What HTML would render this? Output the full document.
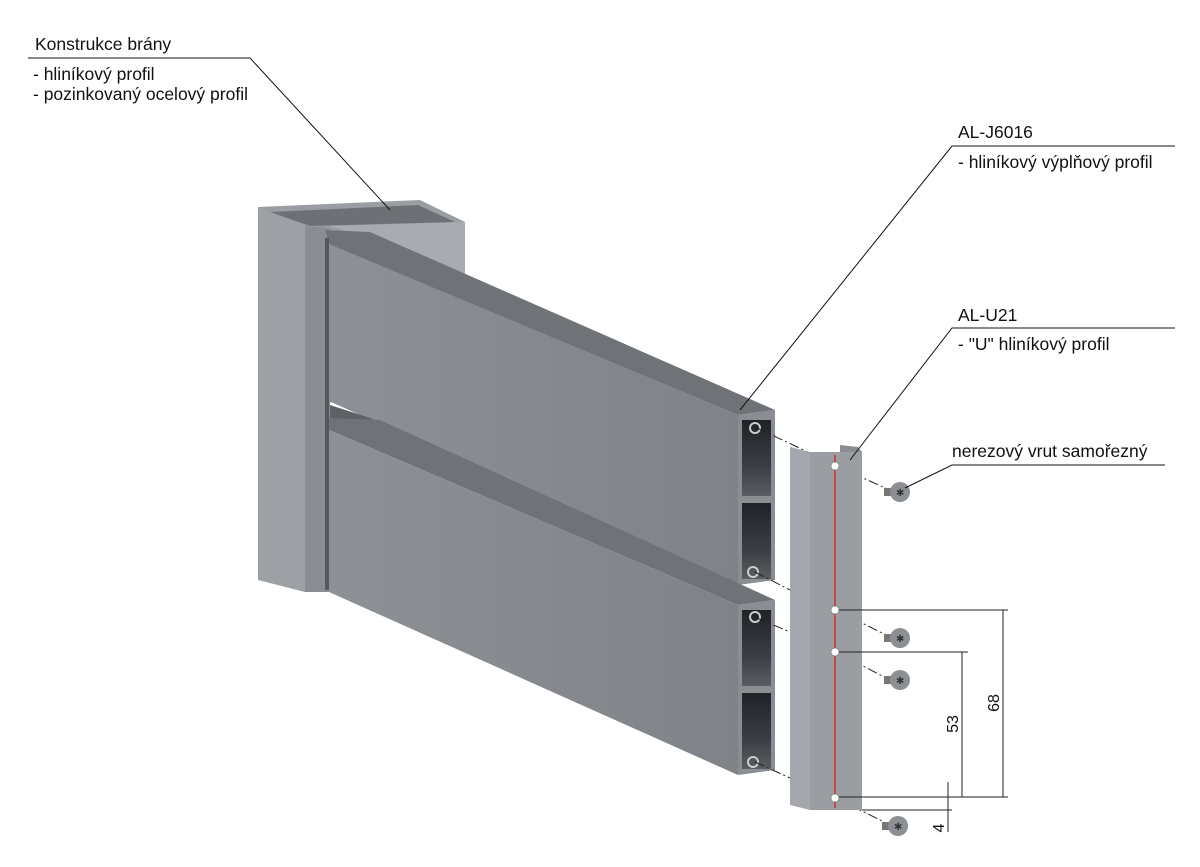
<!DOCTYPE html>
<html><head><meta charset="utf-8"><style>
html,body{margin:0;padding:0;background:#fff;}
svg{display:block;font-family:"Liberation Sans",sans-serif;}
</style></head><body>
<svg width="1200" height="867" viewBox="0 0 1200 867" xmlns="http://www.w3.org/2000/svg">
<defs>
<linearGradient id="fr" x1="0" y1="0" x2="1" y2="0"><stop offset="0" stop-color="#8d9196"/><stop offset="1" stop-color="#7f8388"/></linearGradient>
<linearGradient id="hole" x1="0" y1="0" x2="0" y2="1"><stop offset="0" stop-color="#1f2226"/><stop offset="0.6" stop-color="#3a3e43"/><stop offset="1" stop-color="#5a5e63"/></linearGradient>
</defs>
<!-- post back part -->
<polygon points="258,207 420,200 465,222 465,275 305,228" fill="#9a9ea3"/>
<polygon points="270,212 418,205 455,222 310,226" fill="#6d7176"/>
<polygon points="330,226 465,222 465,275 400,248" fill="#a8acb0"/>
<!-- post faces -->
<polygon points="258,207 305,226 305,592 258,580" fill="#9da1a6"/>
<polygon points="305,226 330,228 330,592 305,592" fill="#8a8e93"/>
<!-- upper bar -->
<polygon points="325,230 370,232 775,410 738,415 330,245" fill="#6f7378"/>
<polygon points="329,244 738,415 738,585 329,402" fill="url(#fr)"/>
<polygon points="738,415 775,410 775,580 738,585" fill="#8a8e93"/>
<rect x="742" y="420" width="29" height="76" fill="url(#hole)"/>
<rect x="742" y="503" width="29" height="76" fill="url(#hole)"/>
<!-- gap between bars -->
<polygon points="331,402 738,585 738,605 331,425" fill="#fff"/>
<polygon points="330,405 370,418 470,462 330,418" fill="#5e6267"/>
<!-- lower bar -->
<polygon points="329,418 380,420 775,600 738,605 329,430" fill="#6f7378"/>
<polygon points="329,430 738,605 738,775 329,592" fill="url(#fr)"/>
<polygon points="738,605 775,600 775,770 738,775" fill="#8a8e93"/>
<rect x="742" y="610" width="29" height="76" fill="url(#hole)"/>
<rect x="742" y="693" width="29" height="76" fill="url(#hole)"/>
<rect x="325" y="238" width="4" height="352" fill="#55595e"/>
<!-- small C grooves -->
<g fill="none" stroke="#ccc" stroke-width="2">
<circle cx="755" cy="428" r="5"/><circle cx="753" cy="572" r="5"/>
<circle cx="755" cy="617" r="5"/><circle cx="753" cy="762" r="5"/>
</g>
<!-- dashed connector lines -->
<g stroke="#222" stroke-width="1" fill="none" stroke-dasharray="10,3,2,3">
<line x1="757" y1="428" x2="810" y2="453"/>
<line x1="755" y1="572" x2="790" y2="590"/>
<line x1="757" y1="618" x2="790" y2="632"/>
<line x1="755" y1="762" x2="790" y2="778"/>
<line x1="836" y1="466" x2="890" y2="490"/>
<line x1="836" y1="610" x2="890" y2="637"/>
<line x1="836" y1="652" x2="890" y2="680"/>
<line x1="836" y1="798" x2="890" y2="825"/>
</g>
<!-- U profile -->
<polygon points="790,447 810,452 810,810 790,805" fill="#a4a8ac"/>
<polygon points="810,452 862,452 862,810 810,810" fill="#9a9ea2"/>
<polygon points="840,445 858,447 862,452 840,452" fill="#8a8e92"/>
<line x1="835" y1="455" x2="835" y2="808" stroke="#c84a48" stroke-width="2"/>
<g fill="#fff" stroke="#555" stroke-width="0.5">
<circle cx="835" cy="466" r="4"/><circle cx="835" cy="610" r="4"/><circle cx="835" cy="652" r="4"/><circle cx="835" cy="798" r="4"/>
</g>
<!-- screws -->
<g>
<g transform="translate(900,492)"><rect x="-16" y="-4" width="8" height="8" fill="#777"/><circle r="10" fill="#8c8f93"/><text x="-4" y="4" font-size="10" fill="#333">✱</text></g>
<g transform="translate(900,638)"><rect x="-16" y="-4" width="8" height="8" fill="#777"/><circle r="10" fill="#8c8f93"/><text x="-4" y="4" font-size="10" fill="#333">✱</text></g>
<g transform="translate(900,680)"><rect x="-16" y="-4" width="8" height="8" fill="#777"/><circle r="10" fill="#8c8f93"/><text x="-4" y="4" font-size="10" fill="#333">✱</text></g>
<g transform="translate(898,826)"><rect x="-16" y="-4" width="8" height="8" fill="#777"/><circle r="10" fill="#8c8f93"/><text x="-4" y="4" font-size="10" fill="#333">✱</text></g>
</g>
<!-- dimensions -->
<g stroke="#222" stroke-width="1" fill="none">
<line x1="839" y1="610" x2="1008" y2="610"/>
<line x1="839" y1="652" x2="968" y2="652"/>
<line x1="839" y1="797" x2="1008" y2="797"/>
<line x1="1003" y1="610" x2="1003" y2="797"/>
<line x1="962" y1="652" x2="962" y2="797"/>
<line x1="862" y1="810" x2="952" y2="810"/>
<line x1="948" y1="782" x2="948" y2="832"/>
</g>
<g font-size="16" fill="#111">
<text transform="translate(999,703) rotate(-90)" text-anchor="middle">68</text>
<text transform="translate(958,724) rotate(-90)" text-anchor="middle">53</text>
<text transform="translate(944,828) rotate(-90)" text-anchor="middle">4</text>
</g>
<!-- labels -->
<g stroke="#111" stroke-width="1" fill="none">
<polyline points="28,58 250,58 390,210"/>
<polyline points="1175,146 952,146 740,410"/>
<polyline points="1175,328 952,328 850,460"/>
<polyline points="1165,465 952,465 905,488"/>
</g>
<g font-size="17.5" fill="#111">
<text x="35" y="50">Konstrukce brány</text>
<text x="33" y="80">- hliníkový profil</text>
<text x="33" y="100">- pozinkovaný ocelový profil</text>
<text x="958" y="138">AL-J6016</text>
<text x="958" y="168">- hliníkový výplňový profil</text>
<text x="958" y="321">AL-U21</text>
<text x="958" y="350">- "U" hliníkový profil</text>
<text x="952" y="457">nerezový vrut samořezný</text>
</g>
</svg>
</body></html>
